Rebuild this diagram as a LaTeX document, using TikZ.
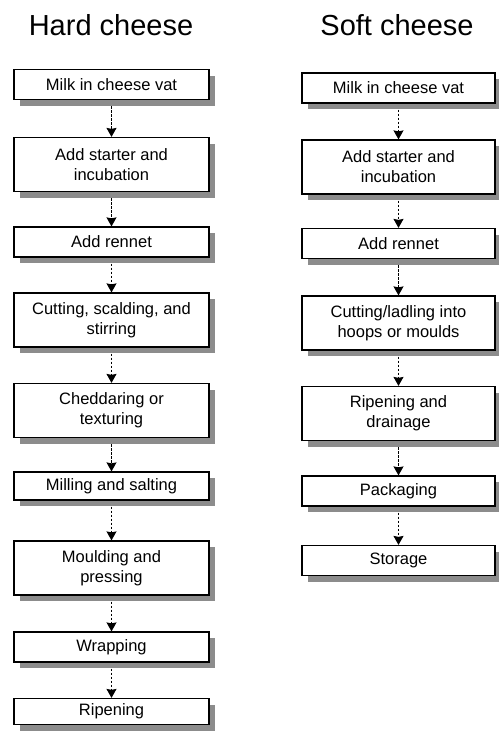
\documentclass[tikz,border=0pt]{standalone}
\usepackage{fontspec}
\setmainfont{Liberation Sans}
\usetikzlibrary{shadows, arrows.meta}

\tikzset{
    stepbox/.style={draw, line width=1.2pt, fill=white, minimum width=195pt,
        minimum height=30pt, inner sep=2pt, align=center,
        font=\fontsize{16.5}{20}\selectfont,
        drop shadow={shadow xshift=6pt, shadow yshift=-6pt, fill=black!45, opacity=1}},
    twoline/.style={minimum height=54pt},
    flow/.style={line width=1.1pt, dash pattern=on 2.5pt off 1.5pt,
        -{Stealth[width=10pt, length=9pt, inset=1pt]}},
    heading/.style={font=\fontsize{29}{34}\selectfont}
}

\begin{document}
\begin{tikzpicture}[x=1pt, y=-1pt]
    \useasboundingbox (0, 0) rectangle (498, 736);

    % Hard cheese
    \node[heading] (hardtitle) at (111, 25) {Hard cheese};
    \node[stepbox] (hard1) at (111.5, 84.5) {Milk in cheese vat};
    \node[stepbox, twoline] (hard2) at (111.5, 164.5) {Add starter and\\incubation};
    \node[stepbox] (hard3) at (111.5, 242) {Add rennet};
    \node[stepbox, twoline] (hard4) at (111.5, 320) {Cutting, scalding, and\\stirring};
    \node[stepbox, twoline] (hard5) at (111.5, 410.5) {Cheddaring or\\texturing};
    \node[stepbox, minimum height=28pt] (hard6) at (111.5, 486) {Milling and salting};
    \node[stepbox, twoline] (hard7) at (111.5, 568) {Moulding and\\pressing};
    \node[stepbox] (hard8) at (111.5, 647) {Wrapping};
    \node[stepbox, minimum height=26pt] (hard9) at (111.5, 711.5) {Ripening};

    % Soft cheese
    \node[heading] (softtitle) at (397, 25) {Soft cheese};
    \node[stepbox, minimum width=193pt] (soft1) at (398.5, 88) {Milk in cheese vat};
    \node[stepbox, twoline, minimum width=193pt] (soft2) at (398.5, 167) {Add starter and\\incubation};
    \node[stepbox, minimum width=193pt] (soft3) at (398.5, 243.5) {Add rennet};
    \node[stepbox, twoline, minimum width=193pt] (soft4) at (398.5, 323) {Cutting/ladling into\\hoops or moulds};
    \node[stepbox, twoline, minimum width=193pt] (soft5) at (398.5, 413.5) {Ripening and\\drainage};
    \node[stepbox, minimum width=193pt] (soft6) at (398.5, 491) {Packaging};
    \node[stepbox, minimum width=193pt] (soft7) at (398.5, 560.5) {Storage};

    % Arrows
    \foreach \i/\j in {1/2, 2/3, 3/4, 4/5, 5/6, 6/7, 7/8, 8/9}
        \draw[flow] ([yshift=-6pt]hard\i.south) -- (hard\j.north);
    \foreach \i/\j in {1/2, 2/3, 3/4, 4/5, 5/6, 6/7}
        \draw[flow] ([yshift=-6pt]soft\i.south) -- (soft\j.north);
\end{tikzpicture}
\end{document}
